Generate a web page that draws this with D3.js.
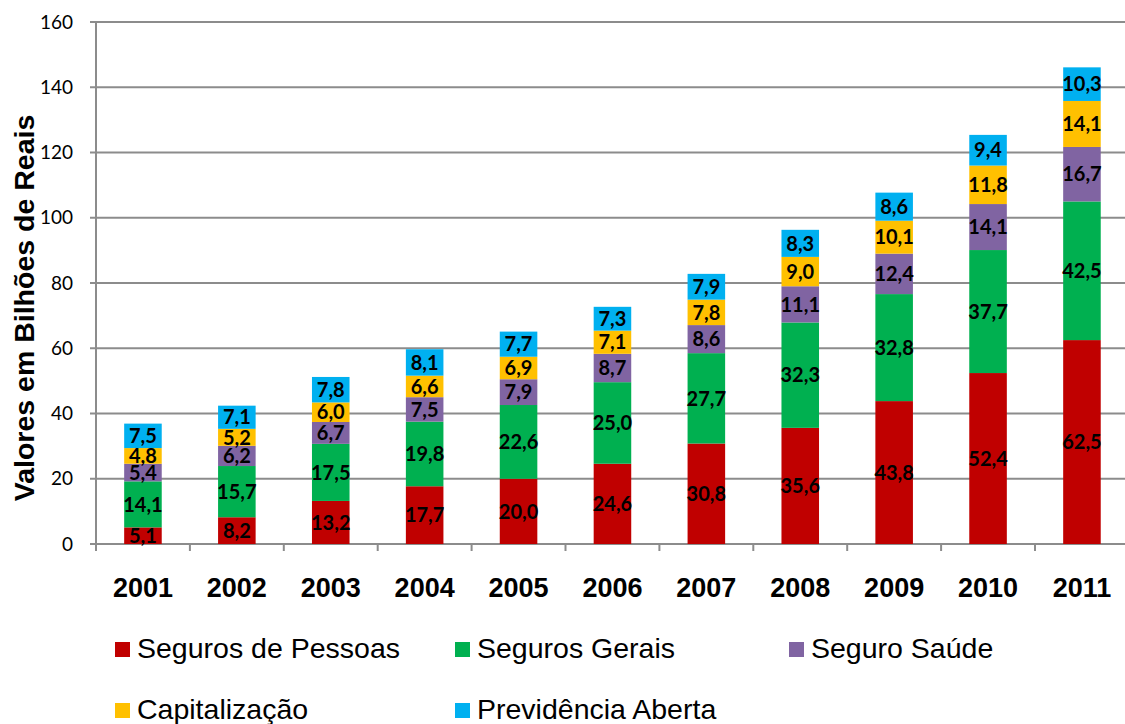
<!DOCTYPE html>
<html><head><meta charset="utf-8">
<script src="https://cdn.jsdelivr.net/npm/d3@7/dist/d3.min.js"></script>
<style>body{margin:0;background:#fff}svg{display:block}</style>
</head><body><svg id="c" width="1125" height="724"></svg>
<script>
const years = ["2001","2002","2003","2004","2005","2006","2007","2008","2009","2010","2011"];
const seriesNames = ["Seguros de Pessoas","Seguros Gerais","Seguro Saúde","Capitalização","Previdência Aberta"];
const segurosPessoas = [5.1,8.2,13.2,17.7,20.0,24.6,30.8,35.6,43.8,52.4,62.5];
const segurosGerais = [14.1,15.7,17.5,19.8,22.6,25.0,27.7,32.3,32.8,37.7,42.5];
const seguroSaude = [5.4,6.2,6.7,7.5,7.9,8.7,8.6,11.1,12.4,14.1,16.7];
const capitalizacao = [4.8,5.2,6.0,6.6,6.9,7.1,7.8,9.0,10.1,11.8,14.1];
const previdencia = [7.5,7.1,7.8,8.1,7.7,7.3,7.9,8.3,8.6,9.4,10.3];
const yTicks = [0,20,40,60,80,100,120,140,160];
const colors = ["#C00000","#00B050","#8064A2","#FFC000","#00B0F0"];

const seriesVals = [segurosPessoas,segurosGerais,seguroSaude,capitalizacao,previdencia];
const rows = years.map((yr,i)=>{const o={year:yr}; seriesNames.forEach((s,k)=>o[s]=seriesVals[k][i]); return o;});
const stack = d3.stack().keys(seriesNames)(rows);

const svg = d3.select("#c");
const pL=96, pT=22, pB=544, pR=96+11*93.9;
const x = d3.scaleBand().domain(years).range([pL,pR]).paddingInner(0.6).paddingOuter(0.3);
const xb = d3.scaleBand().domain(years).range([pL,pR]).padding(0);
const y = d3.scaleLinear().domain([0,160]).range([pB,pT]);

svg.append("g").selectAll("line").data(yTicks).join("line")
  .attr("x1",pL-6).attr("x2",1125).attr("y1",d=>y(d)).attr("y2",d=>y(d))
  .attr("stroke","#8c8c8c").attr("stroke-width",2);
svg.append("line").attr("x1",pL).attr("x2",pL).attr("y1",pT).attr("y2",pB+7)
  .attr("stroke","#8c8c8c").attr("stroke-width",2);
svg.append("g").selectAll("text").data(yTicks).join("text")
  .attr("x",pL-23).attr("y",d=>y(d)).attr("dy","0.35em").attr("text-anchor","end")
  .attr("font-family","Lato, 'Open Sans', sans-serif").attr("font-size",19).attr("fill","#000")
  .text(d=>d);
svg.append("g").selectAll("line").data(years.slice(1)).join("line")
  .attr("x1",d=>xb(d)).attr("x2",d=>xb(d)).attr("y1",pB).attr("y2",pB+7)
  .attr("stroke","#8c8c8c").attr("stroke-width",2);

const g = svg.append("g");
stack.forEach((s,k)=>{
  g.append("g").selectAll("rect").data(s).join("rect")
    .attr("x",d=>x(d.data.year)).attr("width",x.bandwidth())
    .attr("y",d=>y(d[1])).attr("height",d=>y(d[0])-y(d[1]))
    .attr("fill",colors[k]);
});
stack.forEach((s,k)=>{
  g.append("g").selectAll("text").data(s).join("text")
    .attr("x",d=>x(d.data.year)+x.bandwidth()/2)
    .attr("y",d=>(y(d[0])+y(d[1]))/2).attr("dy","0.36em")
    .attr("text-anchor","middle").attr("font-family","Lato, 'Open Sans', sans-serif")
    .attr("font-weight","bold").attr("font-size",20).attr("fill","#000")
    .text(d=>d3.format(".1f")(d[1]-d[0]).replace(".",","));
});
svg.append("g").selectAll("text").data(years).join("text")
  .attr("x",d=>x(d)+x.bandwidth()/2).attr("y",597).attr("text-anchor","middle")
  .attr("font-family","'Liberation Sans', Arial, sans-serif").attr("font-weight","bold")
  .attr("font-size",27).text(d=>d);
svg.append("text").attr("transform","translate(34,308) rotate(-90)").attr("text-anchor","middle")
  .attr("font-family","'Liberation Sans', Arial, sans-serif").attr("font-weight","bold")
  .attr("font-size",28.5).text("Valores em Bilhões de Reais");

const legPos = [[115,658],[455,658],[789,658],[115,719],[455,719]];
seriesNames.forEach((n,k)=>{
  const [lx,ly]=legPos[k];
  svg.append("rect").attr("x",lx).attr("y",ly-16).attr("width",15).attr("height",15).attr("fill",colors[k]);
  svg.append("text").attr("x",lx+22).attr("y",ly).attr("font-family","'Liberation Sans', Arial, sans-serif")
    .attr("font-size",28.5).text(n);
});
</script></body></html>
